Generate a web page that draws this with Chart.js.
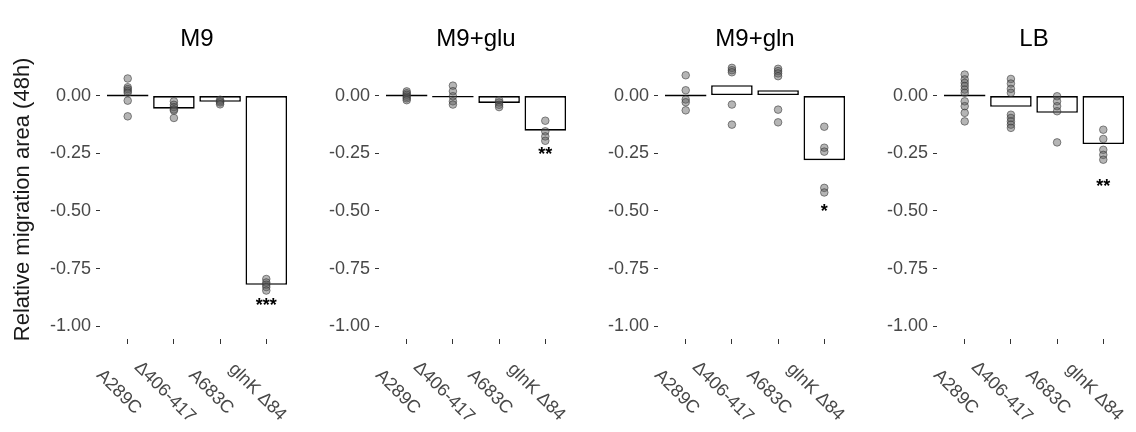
<!DOCTYPE html>
<html>
<head>
<meta charset="utf-8">
<script src="https://cdn.jsdelivr.net/npm/chart.js@4"></script>
<style>
  body { margin: 0; background: #fff; overflow: hidden; }
  #wrap { position: relative; width: 1136px; height: 432px; }
  canvas { position: absolute; top: 0; }
</style>
</head>
<body>
<div id="wrap"></div>
<script>
// panel titles and x categories
const panels = ['M9', 'M9+glu', 'M9+gln', 'LB'];
const strains = ['A289C', 'Δ406-417', 'A683C', 'glnK Δ84'];
const yTicks = [-1, -0.75, -0.5, -0.25, 0];

// bar heights (mean relative migration area) per panel
const barM9  = [0, -0.057, -0.027, -0.82];
const barGlu = [0, -0.006, -0.032, -0.152];
const barGln = [0, 0.045, 0.023, -0.28];
const barLB  = [0, -0.049, -0.075, -0.21];

// individual replicate points, one list per strain
const ptsM9 = [
  [0.074, 0.036, 0.028, 0.02, 0.012, -0.022, -0.09],
  [-0.025, -0.04, -0.05, -0.06, -0.065, -0.097],
  [-0.018, -0.025, -0.03, -0.038],
  [-0.795, -0.81, -0.82, -0.83, -0.845]
];
const ptsGlu = [
  [0.018, 0.01, 0.003, -0.005, -0.012, -0.02],
  [0.043, 0.019, -0.003, -0.025, -0.039],
  [-0.02, -0.03, -0.04, -0.05],
  [-0.109, -0.155, -0.177, -0.196]
];
const ptsGln = [
  [0.088, 0.023, -0.017, -0.029, -0.064],
  [0.12, 0.11, 0.101, -0.039, -0.126],
  [0.116, 0.106, 0.096, 0.084, -0.061, -0.116],
  [-0.135, -0.226, -0.243, -0.4, -0.42]
];
const ptsLB = [
  [0.091, 0.07, 0.055, 0.041, 0.026, 0.012, -0.025, -0.046, -0.075, -0.112],
  [0.072, 0.052, 0.029, 0.012, -0.083, -0.097, -0.112, -0.126, -0.14],
  [-0.003, -0.025, -0.046, -0.068, -0.203],
  [-0.148, -0.188, -0.235, -0.257, -0.278]
];

// significance marks under the last bar
const sigText = ['***', '**', '*', '**'];
const sigY = [-0.895, -0.24, -0.487, -0.378];

const bars = [barM9, barGlu, barGln, barLB];
const pts = [ptsM9, ptsGlu, ptsGln, ptsLB];

const FONT = 'Liberation Sans, Arial, sans-serif';
const tickGrey = '#484848';

// draws rotated x labels and the stars
const extraText = {
  id: 'extraText',
  afterDraw(chart, args, opts) {
    const ctx = chart.ctx;
    const xs = chart.scales.x, ys = chart.scales.y;
    ctx.save();
    ctx.fillStyle = tickGrey;
    ctx.font = '18px ' + FONT;
    ctx.textAlign = 'center';
    ctx.textBaseline = 'middle';
    strains.forEach((s, i) => {
      const px = xs.getPixelForValue(i + 1);
      ctx.save();
      ctx.translate(px - 9, 392);
      ctx.rotate(Math.PI / 4);
      ctx.fillText(s, 0, 0);
      ctx.restore();
    });
    ctx.fillStyle = '#000';
    ctx.font = 'bold 18px ' + FONT;
    ctx.fillText(opts.sig, xs.getPixelForValue(4), ys.getPixelForValue(opts.sigY) + 4);
    ctx.restore();
  }
};

const wrap = document.getElementById('wrap');

panels.forEach((name, p) => {
  const cv = document.createElement('canvas');
  cv.width = 299;
  cv.height = 432;
  cv.style.left = (279 * p) + 'px';
  wrap.appendChild(cv);

  const scatter = [];
  pts[p].forEach((list, i) => list.forEach(v => scatter.push({x: i + 1, y: v})));

  new Chart(cv.getContext('2d'), {
    type: 'bar',
    data: {
      datasets: [
        {
          type: 'scatter',
          data: scatter,
          backgroundColor: 'rgba(90,90,90,0.45)',
          borderColor: 'rgba(50,50,50,0.55)',
          borderWidth: 1,
          pointRadius: 3.8,
          order: 0
        },
        {
          type: 'bar',
          data: bars[p].map((v, i) => ({x: i + 1, y: v})),
          backgroundColor: '#fff',
          borderColor: '#000',
          borderWidth: 1.6,
          borderSkipped: false,
          minBarLength: 2,
          categoryPercentage: 1,
          barPercentage: 0.9,
          order: 1
        }
      ]
    },
    options: {
      responsive: false,
      animation: false,
      layout: { padding: { right: 1 } },
      plugins: {
        legend: { display: false },
        tooltip: { enabled: false },
        title: {
          display: true,
          text: name,
          fullSize: false,
          color: '#000',
          font: { family: FONT, size: 24, weight: 'normal' },
          padding: { top: 25, bottom: 6 }
        },
        extraText: { sig: sigText[p], sigY: sigY[p] }
      },
      scales: {
        x: {
          type: 'linear',
          min: 0.4,
          max: 4.6,
          offset: false,
          afterBuildTicks: s => { s.ticks = [1, 2, 3, 4].map(v => ({value: v})); },
          afterFit: s => { s.height = 93; },
          ticks: { display: false },
          grid: { offset: false, drawOnChartArea: false, tickLength: 5, color: '#333' },
          border: { display: false }
        },
        y: {
          min: -1.055,
          max: 0.155,
          afterBuildTicks: s => { s.ticks = yTicks.map(v => ({value: v})); },
          afterFit: s => { s.width = 100; },
          ticks: {
            color: tickGrey,
            font: { family: FONT, size: 18 },
            padding: 5,
            callback: v => v.toFixed(2)
          },
          grid: { drawOnChartArea: false, tickLength: 4, color: '#333' },
          border: { display: false },
          title: {
            display: p === 0,
            text: 'Relative migration area (48h)',
            color: '#1a1a1a',
            font: { family: FONT, size: 22 },
            padding: { top: 10, bottom: 0 }
          }
        }
      }
    },
    plugins: [extraText]
  });
});
</script>
</body>
</html>
